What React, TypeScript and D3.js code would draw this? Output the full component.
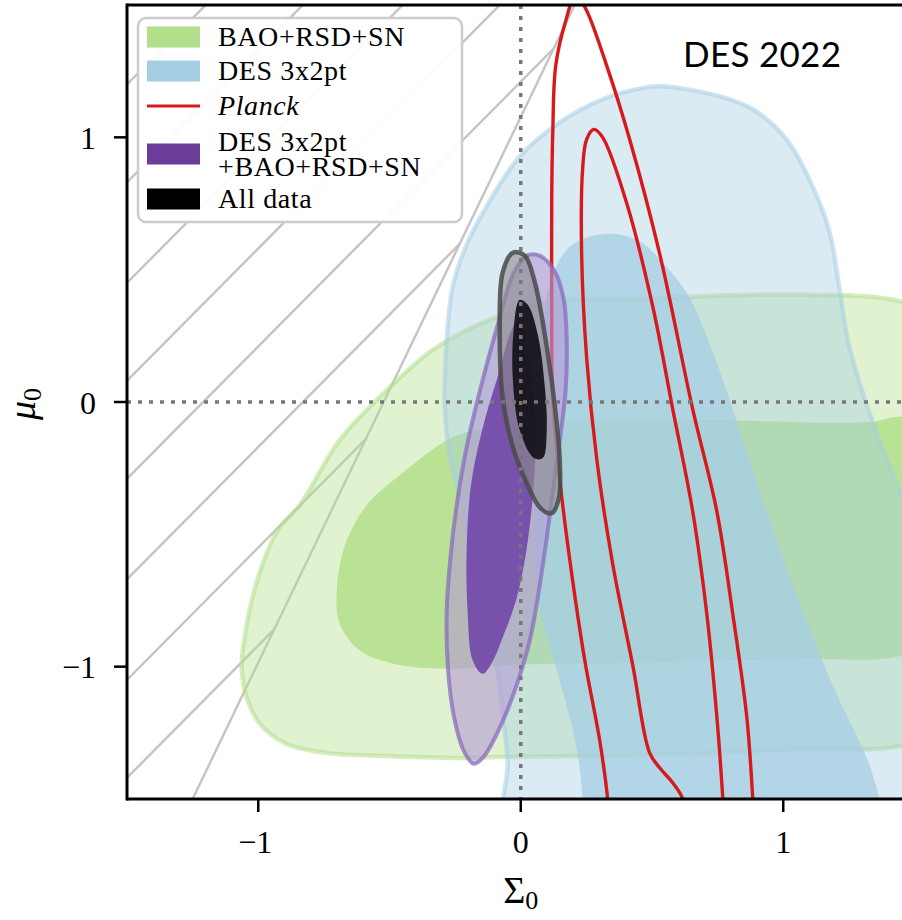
import React from "react";
import * as d3 from "d3";

type Pt = [number, number];

// ticks
const xTicks = [-1, 0, 1];
const yTicks = [-1, 0, 1];

// BAO+RSD+SN (Sigma0, mu0)
const baoOuter: Pt[] = [
  [-0.118, 0.311], [0.11, 0.379], [0.491, 0.39], [0.91, 0.405], [1.451, 0.379],
  [1.672, 0.273], [1.73, -0.371], [1.672, -1.205], [1.451, -1.299], [1.063, -1.311],
  [0.682, -1.326], [0.301, -1.337], [-0.08, -1.341], [-0.244, -1.345], [-0.537, -1.337],
  [-0.739, -1.326], [-0.891, -1.292], [-0.994, -1.216], [-1.044, -1.117], [-1.063, -1.004],
  [-1.048, -0.864], [-1.002, -0.667], [-0.926, -0.485], [-0.842, -0.39], [-0.69, -0.144],
  [-0.51, 0.045], [-0.335, 0.197],
];
const baoInner: Pt[] = [
  [-0.259, -0.133], [-0.461, -0.277], [-0.587, -0.39], [-0.67, -0.542], [-0.701, -0.712],
  [-0.69, -0.837], [-0.613, -0.939], [-0.484, -0.989], [-0.293, -1.008], [-0.004, -0.992],
  [0.491, -0.981], [1.063, -0.97], [1.451, -0.958], [1.672, -0.826], [1.73, -0.447],
  [1.672, -0.144], [1.451, -0.057], [1.33, -0.076], [0.682, -0.068], [0.149, -0.068],
  [-0.08, -0.091],
];

// DES 3x2pt
const desOuter: Pt[] = [
  [-0.038, -1.621], [-0.05, -1.356], [-0.069, -1.178], [-0.091, -1.004], [-0.141, -0.826],
  [-0.187, -0.598], [-0.221, -0.398], [-0.27, -0.208], [-0.29, -0.011], [-0.282, 0.235],
  [-0.259, 0.436], [-0.206, 0.595], [-0.13, 0.739], [-0.004, 0.928], [0.149, 1.057],
  [0.312, 1.144], [0.442, 1.182], [0.53, 1.193], [0.758, 1.155], [0.884, 1.106],
  [1.013, 0.992], [1.112, 0.814], [1.177, 0.64], [1.215, 0.424], [1.246, 0.235],
  [1.291, 0.072], [1.356, -0.117], [1.444, -0.333], [1.558, -0.598], [1.634, -1.129],
  [1.653, -1.621],
];
const desInner: Pt[] = [
  [0.328, 0.636], [0.453, 0.606], [0.53, 0.538], [0.632, 0.413], [0.682, 0.311],
  [0.75, 0.14], [0.808, -0.027], [0.937, -0.413], [1.063, -0.761], [1.189, -1.072],
  [1.318, -1.345], [1.368, -1.5], [1.398, -1.621], [0.244, -1.621], [0.236, -1.5],
  [0.213, -1.307], [0.149, -1.053], [0.076, -0.799], [0.053, -0.598], [0.053, -0.371],
  [0.065, -0.106], [0.08, 0.197], [0.11, 0.443], [0.187, 0.587],
];

// Planck (open at the bottom of the frame)
const planckOuter: Pt[] = [
  [0.339, -1.621], [0.331, -1.5], [0.301, -1.28], [0.244, -0.977], [0.187, -0.598],
  [0.149, -0.295], [0.122, 0.008], [0.118, 0.386], [0.118, 0.765], [0.122, 1.019],
  [0.133, 1.269], [0.168, 1.428], [0.21, 1.538], [0.248, 1.485], [0.328, 1.269],
  [0.415, 0.992], [0.53, 0.557], [0.655, -0.027], [0.747, -0.413], [0.808, -0.803],
  [0.861, -1.189], [0.884, -1.5], [0.891, -1.621],
];
const planckInner: Pt[] = [
  [0.629, -1.621], [0.617, -1.5], [0.579, -1.439], [0.53, -1.383], [0.491, -1.326],
  [0.427, -0.996], [0.35, -0.61], [0.29, -0.22], [0.251, 0.167], [0.232, 0.557],
  [0.236, 0.886], [0.251, 0.992], [0.278, 1.03], [0.312, 1.0], [0.404, 0.75],
  [0.503, 0.36], [0.579, -0.027], [0.655, -0.413], [0.709, -0.803], [0.747, -1.189],
  [0.77, -1.5], [0.777, -1.621],
];

// DES 3x2pt + BAO+RSD+SN
const comboOuter: Pt[] = [
  [0.023, 0.553], [0.072, 0.553], [0.13, 0.492], [0.164, 0.386], [0.175, 0.235],
  [0.171, 0.045], [0.149, -0.144], [0.118, -0.371], [0.084, -0.617], [0.034, -0.902],
  [-0.03, -1.11], [-0.091, -1.254], [-0.145, -1.345], [-0.179, -1.367], [-0.217, -1.318],
  [-0.255, -1.186], [-0.278, -0.996], [-0.282, -0.788], [-0.267, -0.58], [-0.244, -0.39],
  [-0.206, -0.17], [-0.145, 0.083], [-0.08, 0.318], [-0.03, 0.481],
];
const comboInner: Pt[] = [
  [-0.011, 0.311], [0.034, 0.159], [0.057, -0.068], [0.053, -0.258], [0.027, -0.523],
  [-0.015, -0.739], [-0.069, -0.89], [-0.11, -0.985], [-0.145, -1.027], [-0.183, -0.977],
  [-0.202, -0.799], [-0.206, -0.549], [-0.187, -0.295], [-0.137, -0.068], [-0.08, 0.121],
  [-0.042, 0.254],
];

// All data
const allOuter: Pt[] = [
  [-0.03, 0.564], [0.015, 0.553], [0.053, 0.455], [0.099, 0.208], [0.133, -0.042],
  [0.149, -0.231], [0.145, -0.364], [0.118, -0.42], [0.076, -0.402], [0.023, -0.307],
  [-0.03, -0.17], [-0.069, 0.019], [-0.08, 0.273], [-0.069, 0.489],
];
const allInner: Pt[] = [
  [-0.004, 0.386], [0.027, 0.367], [0.065, 0.254], [0.091, 0.064], [0.099, -0.106],
  [0.084, -0.212], [0.05, -0.212], [-0.004, -0.106], [-0.03, 0.083], [-0.027, 0.273],
];

// excluded region: straight edge and hatch offsets (mu0 = Sigma0 + c)
const hatchEdge: Pt[] = [[-1.25, -1.5], [0.215, 1.52]];
const hatchOffsets = [0.08, 0.45, 0.83, 1.21, 1.58, 1.95, 2.33, 2.7];

const legendItems = [
  { label: ["BAO+RSD+SN"], color: "#b2df8a", kind: "patch" },
  { label: ["DES 3x2pt"], color: "#a6cee3", kind: "patch" },
  { label: ["Planck"], color: "#d7191c", kind: "line" },
  { label: ["DES 3x2pt", "+BAO+RSD+SN"], color: "#6a3d9a", kind: "patch" },
  { label: ["All data"], color: "#000000", kind: "patch" },
];

const W = 902;
const H = 920;
const x = d3.scaleLinear().domain([-1.5, 1.5]).range([127, 914.5]);
const y = d3.scaleLinear().domain([-1.5, 1.5]).range([799, 5]);

const closed = d3.line<Pt>().x(d => x(d[0])).y(d => y(d[1])).curve(d3.curveCatmullRomClosed.alpha(0.5));
const open = d3.line<Pt>().x(d => x(d[0])).y(d => y(d[1])).curve(d3.curveCatmullRom.alpha(0.5));
const straight = d3.line<Pt>().x(d => x(d[0])).y(d => y(d[1]));

const serif = "'Liberation Serif', 'Times New Roman', serif";
const fmt = (t: number) => (t < 0 ? "\u2212" + Math.abs(t) : String(t));

const App: React.FC = () => {
  const hatchRegion: Pt[] = [[-1.5, -1.5], hatchEdge[0], hatchEdge[1], [-1.5, 1.52]];
  const legendRows = [37, 71, 106, 154, 199];

  return (
    <svg width={W} height={H} style={{ position: "absolute", left: 0, top: 0, background: "#fff" }}>
      <defs>
        <clipPath id="plot">
          <rect x={x(-1.5)} y={y(1.5)} width={x(1.5) - x(-1.5)} height={y(-1.5) - y(1.5)} />
        </clipPath>
        <clipPath id="hatch">
          <path d={straight(hatchRegion) + "Z"} />
        </clipPath>
      </defs>

      <g clipPath="url(#plot)">
        {/* excluded region */}
        <g clipPath="url(#hatch)" stroke="#c4c4c4" strokeWidth={2.4}>
          {hatchOffsets.map(c => (
            <path key={c} d={straight([[-1.7, -1.7 + c], [1.7, 1.7 + c]]) || ""} />
          ))}
        </g>
        <path d={straight(hatchEdge) || ""} stroke="#c4c4c4" strokeWidth={2.4} fill="none" />

        {/* BAO+RSD+SN */}
        <path d={closed(baoOuter) || ""} fill="#b2df8a" fillOpacity={0.4} stroke="#b2df8a" strokeOpacity={0.55} strokeWidth={4.5} />
        <path d={closed(baoInner) || ""} fill="#b2df8a" fillOpacity={0.85} />

        {/* DES 3x2pt */}
        <path d={closed(desOuter) || ""} fill="#a6cee3" fillOpacity={0.4} stroke="#a6cee3" strokeOpacity={0.55} strokeWidth={4.5} />
        <path d={closed(desInner) || ""} fill="#a6cee3" fillOpacity={0.78} />

        {/* Planck */}
        <path d={open(planckOuter) || ""} fill="none" stroke="#d7191c" strokeWidth={3.4} />
        <path d={open(planckInner) || ""} fill="none" stroke="#d7191c" strokeWidth={3.4} />

        {/* DES + BAO+RSD+SN */}
        <path d={closed(comboOuter) || ""} fill="#b49ad6" fillOpacity={0.6} stroke="#8a6cbd" strokeOpacity={0.75} strokeWidth={4} />
        <path d={closed(comboInner) || ""} fill="#7046a8" fillOpacity={0.9} />

        {/* All data */}
        <path d={closed(allOuter) || ""} fill="#8c8c8c" fillOpacity={0.6} stroke="#4a4a4a" strokeOpacity={0.85} strokeWidth={4.5} />
        <path d={closed(allInner) || ""} fill="#141018" fillOpacity={0.92} />

        {/* reference lines */}
        <line x1={x(0)} x2={x(0)} y1={y(1.5)} y2={y(-1.5)} stroke="#777" strokeWidth={3.5} strokeDasharray="4 7" />
        <line x1={x(-1.5)} x2={x(1.5)} y1={y(0)} y2={y(0)} stroke="#777" strokeWidth={3.5} strokeDasharray="4 7" />
      </g>

      {/* frame */}
      <g stroke="#000" strokeWidth={3} fill="none">
        <line x1={x(-1.5)} x2={x(-1.5)} y1={y(1.5) - 1.5} y2={y(-1.5) + 1.5} />
        <line x1={x(-1.5)} x2={x(1.5)} y1={y(-1.5)} y2={y(-1.5)} />
        <line x1={x(-1.5)} x2={x(1.5)} y1={y(1.5)} y2={y(1.5)} />
        <line x1={x(1.5)} x2={x(1.5)} y1={y(1.5)} y2={y(-1.5)} />
      </g>

      {/* x ticks */}
      {xTicks.map(t => (
        <g key={"x" + t}>
          <line x1={x(t)} x2={x(t)} y1={y(-1.5)} y2={y(-1.5) + 13} stroke="#000" strokeWidth={2.5} />
          <text x={x(t) - (t < 0 ? 3 : 0)} y={853} textAnchor="middle" fontFamily={serif} fontSize={32}>
            {fmt(t)}
          </text>
        </g>
      ))}
      {/* y ticks */}
      {yTicks.map(t => (
        <g key={"y" + t}>
          <line x1={x(-1.5) - 13} x2={x(-1.5)} y1={y(t)} y2={y(t)} stroke="#000" strokeWidth={2.5} />
          <text x={96} y={y(t)} dy="0.36em" textAnchor="end" fontFamily={serif} fontSize={32}>
            {fmt(t)}
          </text>
        </g>
      ))}

      {/* axis labels */}
      <text x={x(0)} y={903} textAnchor="middle" fontFamily={serif} fontSize={38}>
        Σ<tspan fontSize={26} dy={6}>0</tspan>
      </text>
      <text transform={`translate(35, ${y(0) + 2}) rotate(-90)`} textAnchor="middle" fontFamily={serif} fontSize={38}>
        <tspan fontStyle="italic">μ</tspan>
        <tspan fontSize={26} dy={6}>0</tspan>
      </text>

      {/* legend */}
      <rect x={138} y={18} width={324} height={204} rx={8} fill="#fff" fillOpacity={0.92} stroke="#cccccc" strokeWidth={2.5} />
      {legendItems.map((item, i) => {
        const cy = legendRows[i];
        const n = item.label.length;
        return (
          <g key={i}>
            {item.kind === "patch" ? (
              <rect x={147} y={cy - 10.5} width={53} height={21} fill={item.color} />
            ) : (
              <line x1={147} x2={200} y1={cy} y2={cy} stroke={item.color} strokeWidth={3} />
            )}
            <text
              x={218}
              y={cy + 9 - ((n - 1) / 2) * 25}
              fontFamily={serif}
              fontSize={28}
              letterSpacing={0.6}
              fontStyle={item.kind === "line" ? "italic" : "normal"}
            >
              {item.label.map((l, j) => (
                <tspan key={j} x={218} dy={j === 0 ? 0 : 25}>
                  {l}
                </tspan>
              ))}
            </text>
          </g>
        );
      })}

      <text x={683} y={67} fontFamily="Lato, 'Open Sans', sans-serif" fontSize={35} textLength={158}>
        DES 2022
      </text>
    </svg>
  );
};

export default App;
